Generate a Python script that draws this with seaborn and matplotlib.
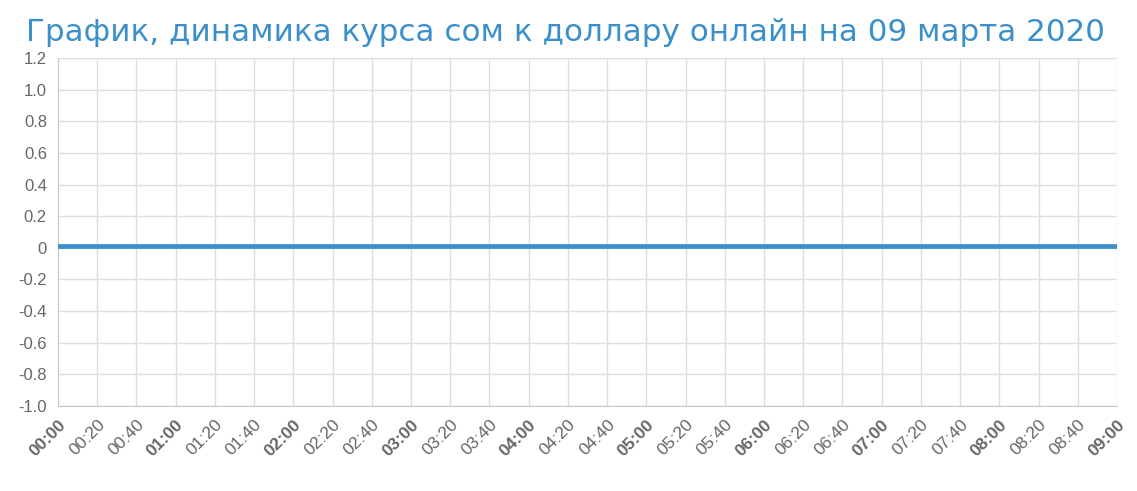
import matplotlib
matplotlib.use('Agg')
import matplotlib.pyplot as plt
import seaborn as sns
import pandas as pd

# time labels every 20 minutes, 00:00 .. 09:00
time_labels = ['00:00', '00:20', '00:40', '01:00', '01:20', '01:40', '02:00',
               '02:20', '02:40', '03:00', '03:20', '03:40', '04:00', '04:20',
               '04:40', '05:00', '05:20', '05:40', '06:00', '06:20', '06:40',
               '07:00', '07:20', '07:40', '08:00', '08:20', '08:40', '09:00']
rate_values = [0.01, 0.01, 0.01, 0.01, 0.01, 0.01, 0.01,
               0.01, 0.01, 0.01, 0.01, 0.01, 0.01, 0.01,
               0.01, 0.01, 0.01, 0.01, 0.01, 0.01, 0.01,
               0.01, 0.01, 0.01, 0.01, 0.01, 0.01, 0.01]
y_ticks = [-1.0, -0.8, -0.6, -0.4, -0.2, 0, 0.2, 0.4, 0.6, 0.8, 1.0, 1.2]
y_tick_labels = ['-1.0', '-0.8', '-0.6', '-0.4', '-0.2', '0',
                 '0.2', '0.4', '0.6', '0.8', '1.0', '1.2']

minutes = [int(t[:2]) * 60 + int(t[3:]) for t in time_labels]
df = pd.DataFrame({'minutes': minutes, 'rate': rate_values})

sns.set_style('white')
plt.rcParams['font.family'] = ['Liberation Sans', 'DejaVu Sans']

fig = plt.figure(figsize=(11.37, 4.91), dpi=100)
ax = fig.add_axes([0.051, 0.173, 0.9314, 0.709])

sns.lineplot(data=df, x='minutes', y='rate', ax=ax, color='#3b8fca',
             linewidth=3.4, zorder=3)

ax.set_xlim(minutes[0], minutes[-1])
ax.set_ylim(-1.0, 1.2)
ax.set_xticks(minutes)
ax.set_xticklabels(time_labels, rotation=45, ha='right', rotation_mode='anchor',
                   fontsize=12.5, color='#666666')
for lbl in ax.get_xticklabels():
    if lbl.get_text().endswith(':00'):
        lbl.set_fontweight('bold')
ax.set_yticks(y_ticks)
ax.set_yticklabels(y_tick_labels, fontsize=12, color='#666666')

ax.grid(True, color='#dedede', linewidth=1)
ax.tick_params(axis='both', length=6, width=1, color='#dedede', pad=2)
for side in ['top', 'right']:
    ax.spines[side].set_visible(False)
ax.spines['left'].set_color('#c8c8c8')
ax.spines['bottom'].set_color('#c8c8c8')
ax.set_xlabel('')
ax.set_ylabel('')

fig.text(0.497, 1 - 41 / 491,
         'График, динамика курса сом к доллару онлайн на 09 марта 2020',
         fontsize=22.3, color='#3b8fca', family='DejaVu Sans',
         ha='center', va='baseline')

plt.savefig('out.png', dpi=100)
